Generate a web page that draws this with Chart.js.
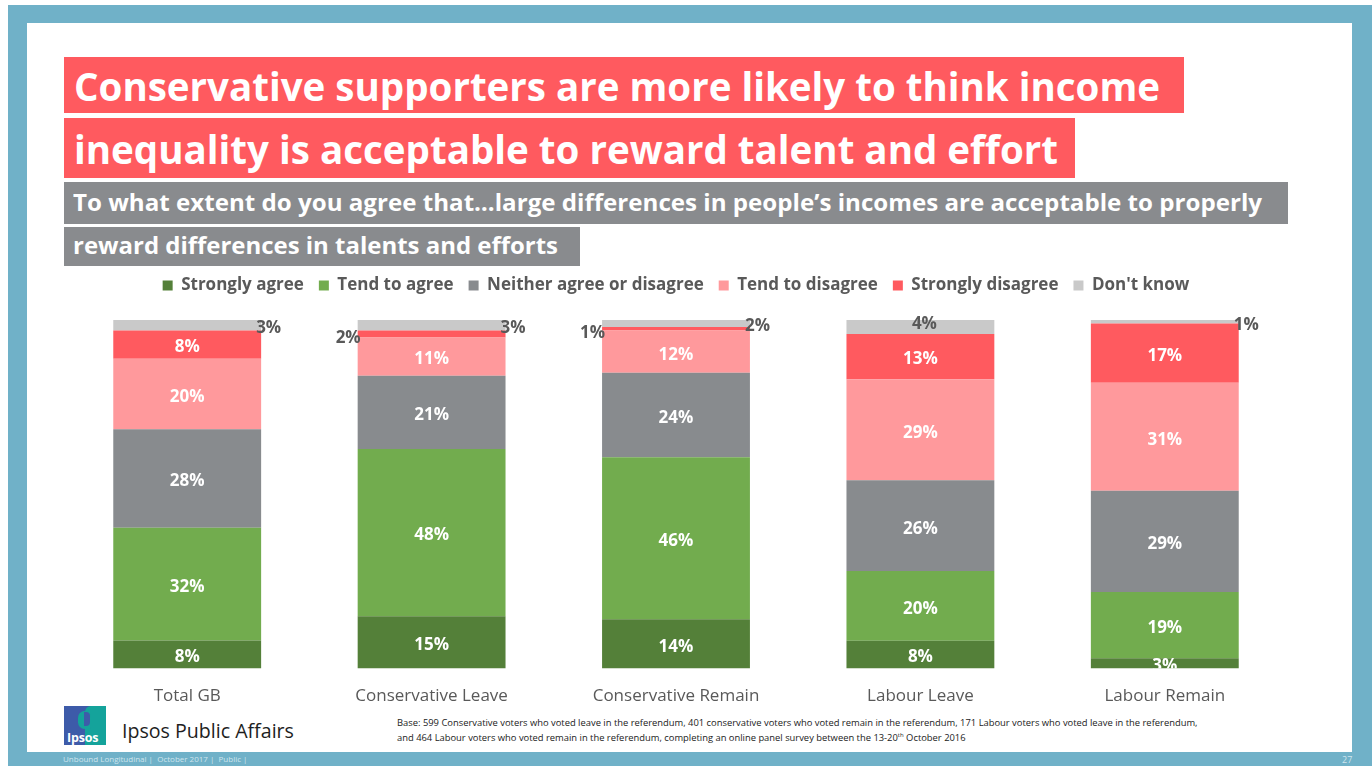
<!DOCTYPE html>
<html>
<head>
<meta charset="utf-8">
<title>Income inequality and reward for talent and effort</title>
<script src="https://cdn.jsdelivr.net/npm/chart.js@4.4.1/dist/chart.umd.min.js"></script>
<style>
  html, body { margin: 0; padding: 0; background: #fff; }
  #page { position: relative; width: 1372px; height: 766px; overflow: hidden; font-family: "Open Sans", sans-serif; }
  #frame { position: absolute; left: 8px; top: 5px; right: 0; bottom: 0; background: #70B1C8; }
  #inner { position: absolute; left: 27px; top: 23px; width: 1325px; height: 729px; background: #fff; }
  .box { position: absolute; left: 64px; }
  .red { background: #FF5A5F; }
  .grey { background: #898B8E; }
  .line { position: absolute; white-space: nowrap; color: #fff; font-weight: 700; line-height: 1; transform-origin: 0 0; }
  .t { font-size: 40px; }
  .s { font-size: 24px; }
  #chartbox { position: absolute; left: 0; top: 0; width: 1372px; height: 766px; }
  #logo { position: absolute; left: 64px; top: 706px; width: 42px; height: 39px; background: #3D5BA9; overflow: hidden; }
  #logo .teal { position: absolute; left: 21px; top: 0; width: 21px; height: 39px; background: #14A39B; border-top-left-radius: 6px; }
  #logo .head { position: absolute; left: 14px; top: 5px; width: 13px; height: 18px; background: #14A39B; border-radius: 7px 7px 3px 7px; }
  #logo .head2 { position: absolute; left: 20px; top: 6px; width: 6px; height: 14px; background: #3D5BA9; border-radius: 0 4px 4px 0; }
  #logo span { position: absolute; left: 3px; top: 23px; font-size: 12.5px; font-weight: 700; color: #fff; letter-spacing: -0.2px; }
  #brand { position: absolute; left: 122px; top: 721px; font-size: 19.6px; color: #1E1E1E; white-space: nowrap; line-height: 1; }
  #base { position: absolute; left: 397px; top: 715px; font-size: 9.4px; line-height: 15px; color: #222; white-space: nowrap; }
  #base sup { font-size: 6px; line-height: 0; }
  #foot { position: absolute; left: 63px; top: 755px; font-size: 8px; color: #CFE5EE; white-space: nowrap; line-height: 1; }
  #pageno { position: absolute; left: 1342px; top: 755px; font-size: 9px; color: #CFE5EE; line-height: 1; }
</style>
</head>
<body>
<div id="page">
  <div id="frame"></div>
  <div id="inner"></div>

  <div class="box red" style="top:57px;width:1120px;height:56px;"></div>
  <div class="box red" style="top:118px;width:1011px;height:60px;"></div>
  <div class="box grey" style="top:182px;width:1224px;height:42px;"></div>
  <div class="box grey" style="top:227px;width:516px;height:39px;"></div>

  <div class="line t" data-w="1086" style="left:74px;top:66px;">Conservative supporters are more likely to think income</div>
  <div class="line t" data-w="984" style="left:74px;top:129px;">inequality is acceptable to reward talent and effort</div>
  <div class="line s" data-w="1189" style="left:73px;top:190px;">To what extent do you agree that…large differences in people’s incomes are acceptable to properly</div>
  <div class="line s" data-w="485" style="left:73px;top:233px;">reward differences in talents and efforts</div>

  <div id="logo"><div class="teal"></div><div class="head"></div><div class="head2"></div><span>Ipsos</span></div>
  <div id="brand">Ipsos Public Affairs</div>
  <div id="base">Base: 599 Conservative voters who voted leave in the referendum, 401 conservative voters who voted remain in the referendum, 171 Labour voters who voted leave in the referendum,<br>and 464 Labour voters who voted remain in the referendum, completing an online panel survey between the 13-20<sup>th</sup> October 2016</div>
  <div id="foot">Unbound Longitudinal |&nbsp; October 2017 |&nbsp; Public |</div>
  <div id="pageno">27</div>

  <div id="chartbox"><canvas id="chart"></canvas></div>
</div>

<script>
// Survey groups shown along the x axis
const categories = ['Total GB', 'Conservative Leave', 'Conservative Remain', 'Labour Leave', 'Labour Remain'];

// Response shares (%) per group, bottom to top of each stack
const stronglyAgree    = [8, 15, 14, 8, 3];
const tendToAgree      = [32, 48, 46, 20, 19];
const neitherNor       = [28, 21, 24, 26, 29];
const tendToDisagree   = [20, 11, 12, 29, 31];
const stronglyDisagree = [8, 2, 1, 13, 17];
const dontKnow         = [3, 3, 2, 4, 1];

const seriesNames  = ['Strongly agree', 'Tend to agree', 'Neither agree or disagree', 'Tend to disagree', 'Strongly disagree', "Don't know"];
const seriesValues = [stronglyAgree, tendToAgree, neitherNor, tendToDisagree, stronglyDisagree, dontKnow];
const seriesColors = ['#548039', '#72AC4E', '#888B8E', '#FF999C', '#FF5A5F', '#C9C9C9'];

// Squeeze the headline text lines to their box widths
document.querySelectorAll('.line[data-w]').forEach(el => {
  const w = el.getBoundingClientRect().width;
  const target = +el.dataset.w;
  el.style.transform = 'scaleX(' + (target / w) + ')';
});

// Each stack is drawn as a full 100% column
const totals = categories.map((_, i) => seriesValues.reduce((s, arr) => s + arr[i], 0));

const datasets = seriesNames.map((name, k) => ({
  label: name,
  data: seriesValues[k].map((v, i) => v / totals[i] * 100),
  backgroundColor: seriesColors[k],
  borderWidth: 0,
  categoryPercentage: 0.605,
  barPercentage: 1
}));

// Small top segments get their label beside the bar
const outsideSide = { 'Strongly disagree': 'left', "Don't know": 'right' };

const segmentLabels = {
  id: 'segmentLabels',
  afterDatasetsDraw(chart) {
    const ctx = chart.ctx;
    const area = chart.chartArea;
    chart.data.datasets.forEach((ds, di) => {
      const meta = chart.getDatasetMeta(di);
      meta.data.forEach((bar, i) => {
        const v = seriesValues[di][i];
        const p = bar.getProps(['x', 'y', 'base', 'width'], true);
        const top = Math.min(p.y, p.base), bottom = Math.max(p.y, p.base);
        const mid = (top + bottom) / 2;
        const text = v + '%';
        const side = outsideSide[ds.label];
        ctx.save();
        ctx.font = 'bold 17px "Open Sans"';
        ctx.textBaseline = 'middle';
        if (side && v <= 3) {
          ctx.fillStyle = '#595959';
          if (side === 'right') {
            ctx.textAlign = 'left';
            ctx.fillText(text, p.x + p.width / 2 - 5, mid + 3);
          } else {
            ctx.textAlign = 'right';
            ctx.fillText(text, p.x - p.width / 2 + 3, mid + 4);
          }
        } else if (ds.label === "Don't know") {
          ctx.fillStyle = '#595959';
          ctx.textAlign = 'center';
          ctx.fillText(text, p.x + 4, mid - 3);
        } else {
          ctx.beginPath();
          ctx.rect(area.left, area.top, area.right - area.left, area.bottom - area.top);
          ctx.clip();
          ctx.fillStyle = '#FFFFFF';
          ctx.textAlign = 'center';
          ctx.fillText(text, p.x, mid + 3);
        }
        ctx.restore();
      });
    });
  }
};

// Extra room between the legend row and the bars
const legendGap = {
  id: 'legendGap',
  beforeInit(chart) {
    const fit = chart.legend.fit;
    chart.legend.fit = function () {
      fit.call(this);
      this.height += 16;
    };
  }
};

new Chart(document.getElementById('chart'), {
  type: 'bar',
  data: { labels: categories, datasets: datasets },
  plugins: [legendGap, segmentLabels],
  options: {
    responsive: true,
    maintainAspectRatio: false,
    animation: false,
    layout: { padding: { left: 65, right: 85, top: 262, bottom: 43 } },
    plugins: {
      legend: {
        display: true,
        position: 'top',
        labels: {
          boxWidth: 10,
          boxHeight: 10,
          padding: 15,
          color: '#595959',
          font: { family: '"Open Sans"', size: 17, weight: 'bold' }
        }
      },
      tooltip: { enabled: false }
    },
    scales: {
      x: {
        stacked: true,
        grid: { display: false, drawTicks: false },
        border: { display: false },
        ticks: { color: '#595959', padding: 17, font: { family: '"Open Sans"', size: 17 } }
      },
      y: {
        stacked: true,
        display: false,
        min: 0,
        max: 100
      }
    }
  }
});
</script>
</body>
</html>
